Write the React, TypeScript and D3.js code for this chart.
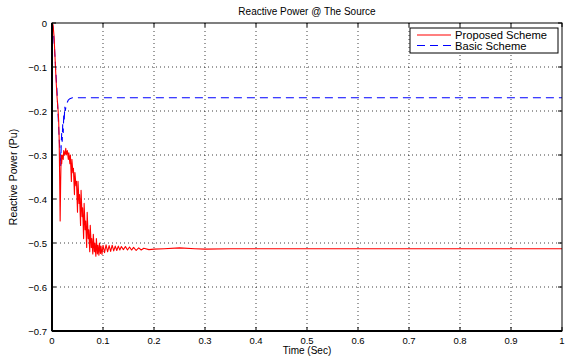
import React from "react";
import * as d3 from "d3";

const xTicks = [0, 0.1, 0.2, 0.3, 0.4, 0.5, 0.6, 0.7, 0.8, 0.9, 1];
const yTicks = [0, -0.1, -0.2, -0.3, -0.4, -0.5, -0.6, -0.7];

const proposedTime = [
  0, 0.002, 0.004, 0.006, 0.008, 0.01, 0.012, 0.013, 0.014, 0.015, 0.016, 0.017, 0.018, 0.019, 0.02,
  0.022, 0.023, 0.025, 0.027, 0.028, 0.03, 0.032, 0.033, 0.035, 0.036, 0.038, 0.039, 0.041, 0.042,
  0.044, 0.045, 0.047, 0.048, 0.05, 0.051, 0.053, 0.054, 0.056, 0.057, 0.059, 0.06, 0.062, 0.063,
  0.065, 0.066, 0.068, 0.069, 0.071, 0.072, 0.074, 0.075, 0.077, 0.078, 0.08, 0.081, 0.083, 0.084,
  0.086, 0.087, 0.089, 0.09, 0.092, 0.093, 0.095, 0.096, 0.098, 0.1, 0.103, 0.106, 0.109, 0.112,
  0.115, 0.118, 0.121, 0.124, 0.127, 0.13, 0.133, 0.136, 0.14, 0.144, 0.148, 0.152, 0.156, 0.16,
  0.165, 0.17, 0.175, 0.18, 0.19, 0.2, 0.22, 0.25, 0.28, 0.3, 0.35, 0.5, 1.0,
];
const proposedValue = [
  0, -0.004, -0.03, -0.08, -0.13, -0.17, -0.2, -0.22, -0.26, -0.35, -0.45, -0.36, -0.3, -0.32, -0.3,
  -0.31, -0.29, -0.3, -0.285, -0.3, -0.29, -0.31, -0.295, -0.32, -0.3, -0.36, -0.31, -0.34, -0.33,
  -0.39, -0.34, -0.37, -0.36, -0.43, -0.36, -0.41, -0.39, -0.46, -0.38, -0.44, -0.42, -0.49, -0.41,
  -0.47, -0.45, -0.51, -0.43, -0.49, -0.47, -0.52, -0.46, -0.51, -0.49, -0.525, -0.48, -0.52, -0.5,
  -0.53, -0.49, -0.525, -0.505, -0.528, -0.5, -0.524, -0.507, -0.526, -0.505, -0.522, -0.504, -0.52, -0.506,
  -0.519, -0.505, -0.518, -0.507, -0.517, -0.507, -0.516, -0.508, -0.515, -0.508, -0.516, -0.509, -0.516, -0.51,
  -0.517, -0.511, -0.516, -0.512, -0.515, -0.514, -0.513, -0.511, -0.513, -0.514, -0.513, -0.513, -0.513,
];

const basicTime = [
  0, 0.002, 0.004, 0.006, 0.008, 0.01, 0.012, 0.014, 0.016, 0.017, 0.018, 0.019, 0.02, 0.021, 0.022,
  0.023, 0.024, 0.025, 0.026, 0.028, 0.03, 0.032, 0.035, 0.04, 1.0,
];
const basicValue = [
  0, -0.01, -0.04, -0.08, -0.12, -0.16, -0.21, -0.26, -0.3, -0.325, -0.28, -0.25, -0.27, -0.23, -0.25,
  -0.21, -0.22, -0.19, -0.2, -0.185, -0.18, -0.175, -0.172, -0.17, -0.17,
];

const W = 565;
const H = 356;
const M = { left: 52, right: 562, top: 23, bottom: 331 };
const FONT = "Helvetica, 'Liberation Sans', Arial, sans-serif";

export default function App() {
  const x = d3.scaleLinear().domain([0, 1]).range([M.left, M.right]);
  const y = d3.scaleLinear().domain([-0.7, 0]).range([M.bottom, M.top]);
  const line = d3
    .line<[number, number]>()
    .x((d) => x(d[0]))
    .y((d) => y(d[1]));
  const proposed = proposedTime.map((t, i) => [t, proposedValue[i]] as [number, number]);
  const basic = basicTime.map((t, i) => [t, basicValue[i]] as [number, number]);
  const fmt = (v: number) => (v === 0 ? "0" : v < 0 ? "\u2212" + String(Math.abs(v)) : String(v));

  return (
    <svg
      width={W}
      height={H}
      style={{ position: "absolute", left: 0, top: 0, background: "#fff" }}
      fontFamily={FONT}
    >
      <rect x={0} y={0} width={W} height={H} fill="#fff" />
      {/* grid */}
      {xTicks.slice(1, -1).map((t) => (
        <line key={"gx" + t} x1={x(t)} x2={x(t)} y1={M.top} y2={M.bottom} stroke="#000" strokeWidth={1} strokeDasharray="1,3" opacity={0.75} />
      ))}
      {yTicks.slice(1, -1).map((t) => (
        <line key={"gy" + t} x1={M.left} x2={M.right} y1={y(t)} y2={y(t)} stroke="#000" strokeWidth={1} strokeDasharray="1,3" opacity={0.75} />
      ))}
      {/* data */}
      <path d={line(basic) || ""} fill="none" stroke="#0000ff" strokeWidth={1.1} strokeDasharray="8,5" />
      <path d={line(proposed) || ""} fill="none" stroke="#ff0000" strokeWidth={1.1} strokeLinejoin="round" />
      {/* box */}
      <rect x={M.left} y={M.top} width={M.right - M.left} height={M.bottom - M.top} fill="none" stroke="#000" strokeWidth={1} />
      <line x1={M.left} x2={M.left} y1={M.top} y2={M.bottom} stroke="#000" strokeWidth={2} />
      <line x1={M.left} x2={M.right} y1={M.bottom} y2={M.bottom} stroke="#000" strokeWidth={2} />
      {/* ticks */}
      {xTicks.map((t) => (
        <g key={"tx" + t}>
          <line x1={x(t)} x2={x(t)} y1={M.bottom} y2={M.bottom - 4} stroke="#000" />
          <line x1={x(t)} x2={x(t)} y1={M.top} y2={M.top + 4} stroke="#000" />
          <text x={x(t)} y={344} fontSize={9.5} textAnchor="middle">
            {fmt(t)}
          </text>
        </g>
      ))}
      {yTicks.map((t) => (
        <g key={"ty" + t}>
          <line x1={M.left} x2={M.left + 4} y1={y(t)} y2={y(t)} stroke="#000" />
          <line x1={M.right} x2={M.right - 4} y1={y(t)} y2={y(t)} stroke="#000" />
          <text x={47} y={y(t) + 3.5} fontSize={9.5} textAnchor="end">
            {fmt(t)}
          </text>
        </g>
      ))}
      {/* titles */}
      <text x={(M.left + M.right) / 2} y={15} fontSize={10} textAnchor="middle">
        Reactive Power @ The Source
      </text>
      <text x={(M.left + M.right) / 2} y={354} fontSize={10} textAnchor="middle">
        Time (Sec)
      </text>
      <text transform={`translate(17,${(M.top + M.bottom) / 2}) rotate(-90)`} fontSize={10.5} textAnchor="middle">
        Reactive Power (Pu)
      </text>
      {/* legend */}
      <rect x={410} y={28} width={148} height={25} fill="#fff" stroke="#000" strokeWidth={1} />
      <line x1={417} x2={451} y1={35} y2={35} stroke="#ff0000" strokeWidth={1.1} />
      <line x1={417} x2={451} y1={45.5} y2={45.5} stroke="#0000ff" strokeWidth={1.1} strokeDasharray="8,5" />
      <text x={455} y={39} fontSize={11.2}>
        Proposed Scheme
      </text>
      <text x={455} y={49.5} fontSize={11.2}>
        Basic Scheme
      </text>
    </svg>
  );
}
